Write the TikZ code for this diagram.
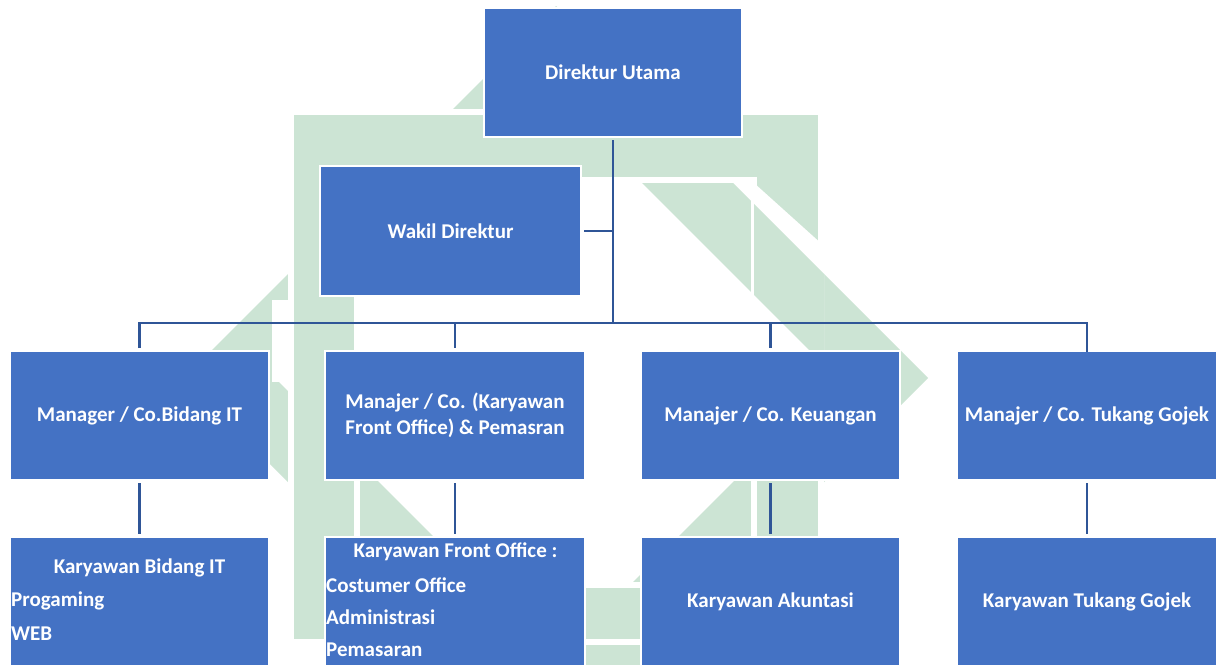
\documentclass[tikz,border=0pt]{standalone}
\usepackage{fontspec}
\setmainfont{Carlito}
\definecolor{boxblue}{HTML}{4472C4}
\definecolor{lineblue}{HTML}{2F5597}
\definecolor{wmgreen}{HTML}{CCE4D4}
\begin{document}
\begin{tikzpicture}[x=1pt,y=-1pt,
  box/.style={fill=boxblue, draw=white, line width=2pt, inner sep=0pt,
    text=white, font=\bfseries\fontsize{21}{25.5}\selectfont, align=center},
  lbl/.style={inner sep=0pt, text=white, font=\bfseries\fontsize{21}{25.5}\selectfont},
  conn/.style={draw=lineblue, line width=2.6pt, shorten <=2pt, shorten >=2pt},
  bus/.style={draw=lineblue, line width=2.6pt},
  wm/.style={fill=wmgreen, even odd rule}
]
\useasboundingbox (0,0) rectangle (1217,664);
\clip (0,0) rectangle (1217,664);
\fill[white] (0,0) rectangle (1217,664);
% watermark (faint logo behind the chart)
\def\diamondpath{(556,6) -- (928,378) -- (556,750) -- (184,378) -- cycle
  (556,97) -- (837,378) -- (556,659) -- (275,378) -- cycle}
\fill[wm] \diamondpath;
\path[wm, draw=white, line width=6pt] (291,112) rectangle (821,642) (357,180) rectangle (754,585);
\fill[white] (754,183) -- (824,246) -- (824,351) -- (754,351) -- cycle;
\begin{scope}
  \clip (754,200) rectangle (824,351);
  \fill[wm] \diamondpath;
\end{scope}
\fill[white] (272,300) rectangle (288,382);
% boxes
\node[box, minimum width=258pt, minimum height=129pt] (dir) at (613,72.5) {Direktur Utama};
\node[box, minimum width=261pt, minimum height=130pt] (wak) at (450.5,231) {Wakil Direktur};
\node[box, minimum width=259pt, minimum height=129pt] (m1) at (139.5,415.5) {Manager / Co.Bidang IT};
\node[box, minimum width=260pt, minimum height=129pt] (m2) at (455,415.5) {Manajer / Co. (Karyawan\\Front Office) \& Pemasran};
\node[box, minimum width=259pt, minimum height=129pt] (m3) at (770.5,415.5) {Manajer / Co. Keuangan};
\node[box, minimum width=260pt, minimum height=129pt] (m4) at (1087,415.5) {Manajer / Co. Tukang Gojek};
\node[box, minimum width=259pt, minimum height=129pt] (k1) at (139.5,601.5) {};
\node[box, minimum width=260pt, minimum height=129pt] (k2) at (455,601.5) {};
\node[box, minimum width=259pt, minimum height=129pt] (k3) at (770.5,601.5) {Karyawan Akuntasi};
\node[box, minimum width=260pt, minimum height=129pt] (k4) at (1087,601.5) {Karyawan Tukang Gojek};
% texts in lower-left boxes
\node[lbl] (k1a) at (139.5,568) {Karyawan Bidang IT};
\node[lbl, anchor=west] (k1b) at (11,601) {Progaming};
\node[lbl, anchor=west] (k1c) at (11,634) {WEB};
\node[lbl] (k2a) at (455.5,552) {Karyawan Front Office :};
\node[lbl, anchor=west] (k2b) at (326,585) {Costumer Office};
\node[lbl, anchor=west] (k2c) at (326,617) {Administrasi};
\node[lbl, anchor=west] (k2d) at (326,650) {Pemasaran};
% connectors
\coordinate (j) at (613,323);
\draw[conn, shorten >=0pt] (dir.south) -- (j);
\draw[conn, shorten >=0pt] (wak.east) -- (wak.east -| j);
\draw[bus] (m1.north) ++(0,-2) |- (j) -| ([yshift=-2pt]m4.north);
\draw[conn, shorten <=0pt] (m2.north |- j) -- (m2.north);
\draw[conn, shorten <=0pt] (m3.north |- j) -- (m3.north);
\draw[conn] (m1.south) -- (k1.north);
\draw[conn] (m2.south) -- (k2.north);
\draw[conn] (m3.south) -- (k3.north);
\draw[conn] (m4.south) -- (k4.north);
\end{tikzpicture}
\end{document}
